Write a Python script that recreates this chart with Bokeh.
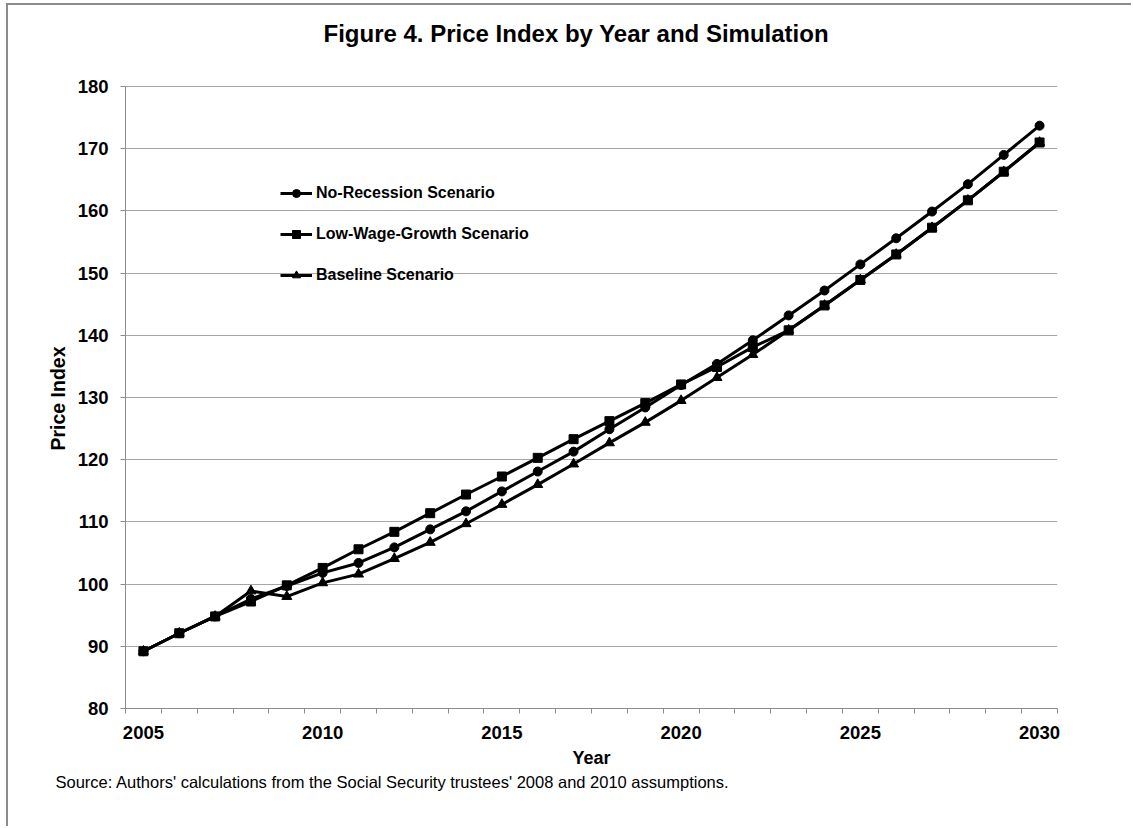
from bokeh.plotting import figure
from bokeh.models import (Range1d, FixedTicker, Legend, LegendItem, Title, Label)
from bokeh.embed import file_html
from bokeh.resources import INLINE

years = list(range(2005, 2031))
no_recession = [89.2, 92.1, 94.8, 97.6, 99.7, 101.8, 103.4, 105.9, 108.8, 111.7,
                114.9, 118.1, 121.3, 124.9, 128.4, 132.0, 135.4, 139.2, 143.2, 147.2,
                151.4, 155.6, 159.9, 164.3, 169.0, 173.7]
low_wage = [89.2, 92.1, 94.8, 97.2, 99.8, 102.6, 105.6, 108.4, 111.4, 114.4,
            117.3, 120.3, 123.3, 126.2, 129.1, 132.1, 134.9, 138.1, 140.8, 144.8,
            148.9, 153.0, 157.3, 161.7, 166.3, 171.0]
baseline = [89.2, 92.1, 94.8, 98.9, 98.0, 100.2, 101.6, 104.1, 106.7, 109.7,
            112.8, 116.0, 119.3, 122.7, 126.0, 129.5, 133.2, 136.9, 140.8, 144.8,
            148.9, 153.0, 157.3, 161.7, 166.3, 171.0]
x_tick_years = [2005, 2010, 2015, 2020, 2025, 2030]
y_ticks = list(range(80, 181, 10))
y_min, y_max = 80, 180

title_text = "Figure 4. Price Index by Year and Simulation"
source_text = "Source: Authors' calculations from the Social Security trustees' 2008 and 2010 assumptions."
y_label = "Price Index"
names = ["No-Recession Scenario", "Low-Wage-Growth Scenario", "Baseline Scenario"]

FONT = "Liberation Sans"
GRID = "#a6a6a6"
AXIS = "#8c8c8c"

# frame spans from the top of the canvas; the plotted band (80-180) occupies its lower 622 px
FRAME_H = 703
BAND_H = 622
y_top = y_min + (y_max - y_min) * FRAME_H / BAND_H

p = figure(width=1125, height=823, output_backend="svg", toolbar_location=None,
           x_range=Range1d(2004.5, 2030.5), y_range=Range1d(y_min, y_top),
           min_border_left=117, min_border_right=76, min_border_top=0,
           min_border_bottom=120, title=None)
p.styles = {"border-top": "2px solid #8c8c8c", "border-left": "2px solid #8c8c8c",
            "border-right": "none", "border-bottom": "none",
            "margin-left": "6px", "margin-top": "3px"}
p.outline_line_color = None
p.background_fill_color = "white"

p.xgrid.visible = False
p.ygrid.grid_line_color = GRID
p.ygrid.grid_line_width = 1

p.xaxis.ticker = FixedTicker(ticks=x_tick_years,
                             minor_ticks=[y - 0.5 for y in years] + [2030.5])
p.xaxis.major_tick_out = 0
p.xaxis.major_tick_in = 0
p.xaxis.minor_tick_out = 5
p.xaxis.minor_tick_in = 0
p.xaxis.minor_tick_line_color = AXIS
p.xaxis.axis_line_color = AXIS
p.xaxis.major_label_standoff = 12
p.xaxis.axis_label = "Year"
p.xaxis.axis_label_standoff = 6

p.yaxis.ticker = FixedTicker(ticks=y_ticks)
p.yaxis.bounds = (y_min, y_max)
p.yaxis.major_tick_out = 5
p.yaxis.major_tick_in = 0
p.yaxis.minor_tick_out = 0
p.yaxis.minor_tick_in = 0
p.yaxis.major_tick_line_color = AXIS
p.yaxis.axis_line_color = AXIS
p.yaxis.major_label_standoff = 12

for ax in (p.xaxis, p.yaxis):
    ax.major_label_text_font = FONT
    ax.major_label_text_font_style = "bold"
    ax.major_label_text_font_size = "18.5px"
    ax.major_label_text_color = "black"
    ax.axis_label_text_font = FONT
    ax.axis_label_text_font_style = "bold"
    ax.axis_label_text_color = "black"
p.xaxis.axis_label_text_font_size = "18px"

lw = 3
r_base_l = p.line(years, baseline, line_color="black", line_width=lw)
r_base_m = p.scatter(years, baseline, marker="triangle", size=10, color="black")
r_nr_l = p.line(years, no_recession, line_color="black", line_width=lw)
r_nr_m = p.scatter(years, no_recession, marker="circle", size=9, color="black")
r_lw_l = p.line(years, low_wage, line_color="black", line_width=lw)
r_lw_m = p.scatter(years, low_wage, marker="square", size=9, color="black")

legend = Legend(items=[
    LegendItem(label=names[0], renderers=[r_nr_l, r_nr_m]),
    LegendItem(label=names[1], renderers=[r_lw_l, r_lw_m]),
    LegendItem(label=names[2], renderers=[r_base_l, r_base_m]),
], location=(155, 423))
legend.border_line_color = None
legend.background_fill_alpha = 0
legend.padding = 0
legend.margin = 0
legend.spacing = 21
legend.glyph_width = 32
legend.glyph_height = 20
legend.label_height = 20
legend.label_standoff = 4
legend.label_text_font = FONT
legend.label_text_font_style = "bold"
legend.label_text_font_size = "16px"
legend.label_text_color = "black"
p.add_layout(legend)

p.add_layout(Label(x=198, y=675, x_units="screen", y_units="screen", text=title_text,
                   text_font=FONT, text_font_style="bold", text_font_size="24px",
                   text_color="black", text_align="left", text_baseline="middle"))
p.add_layout(Title(text=y_label, align="left", text_font=FONT,
                   text_font_style="bold", text_font_size="19.5px", text_color="black",
                   offset=258, standoff=12), "left")
p.add_layout(Title(text=source_text, align="left", text_font=FONT,
                   text_font_style="normal", text_font_size="16.5px", text_color="black",
                   offset=-70, standoff=1), "below")

open("out.html", "w").write(file_html(p, INLINE))
